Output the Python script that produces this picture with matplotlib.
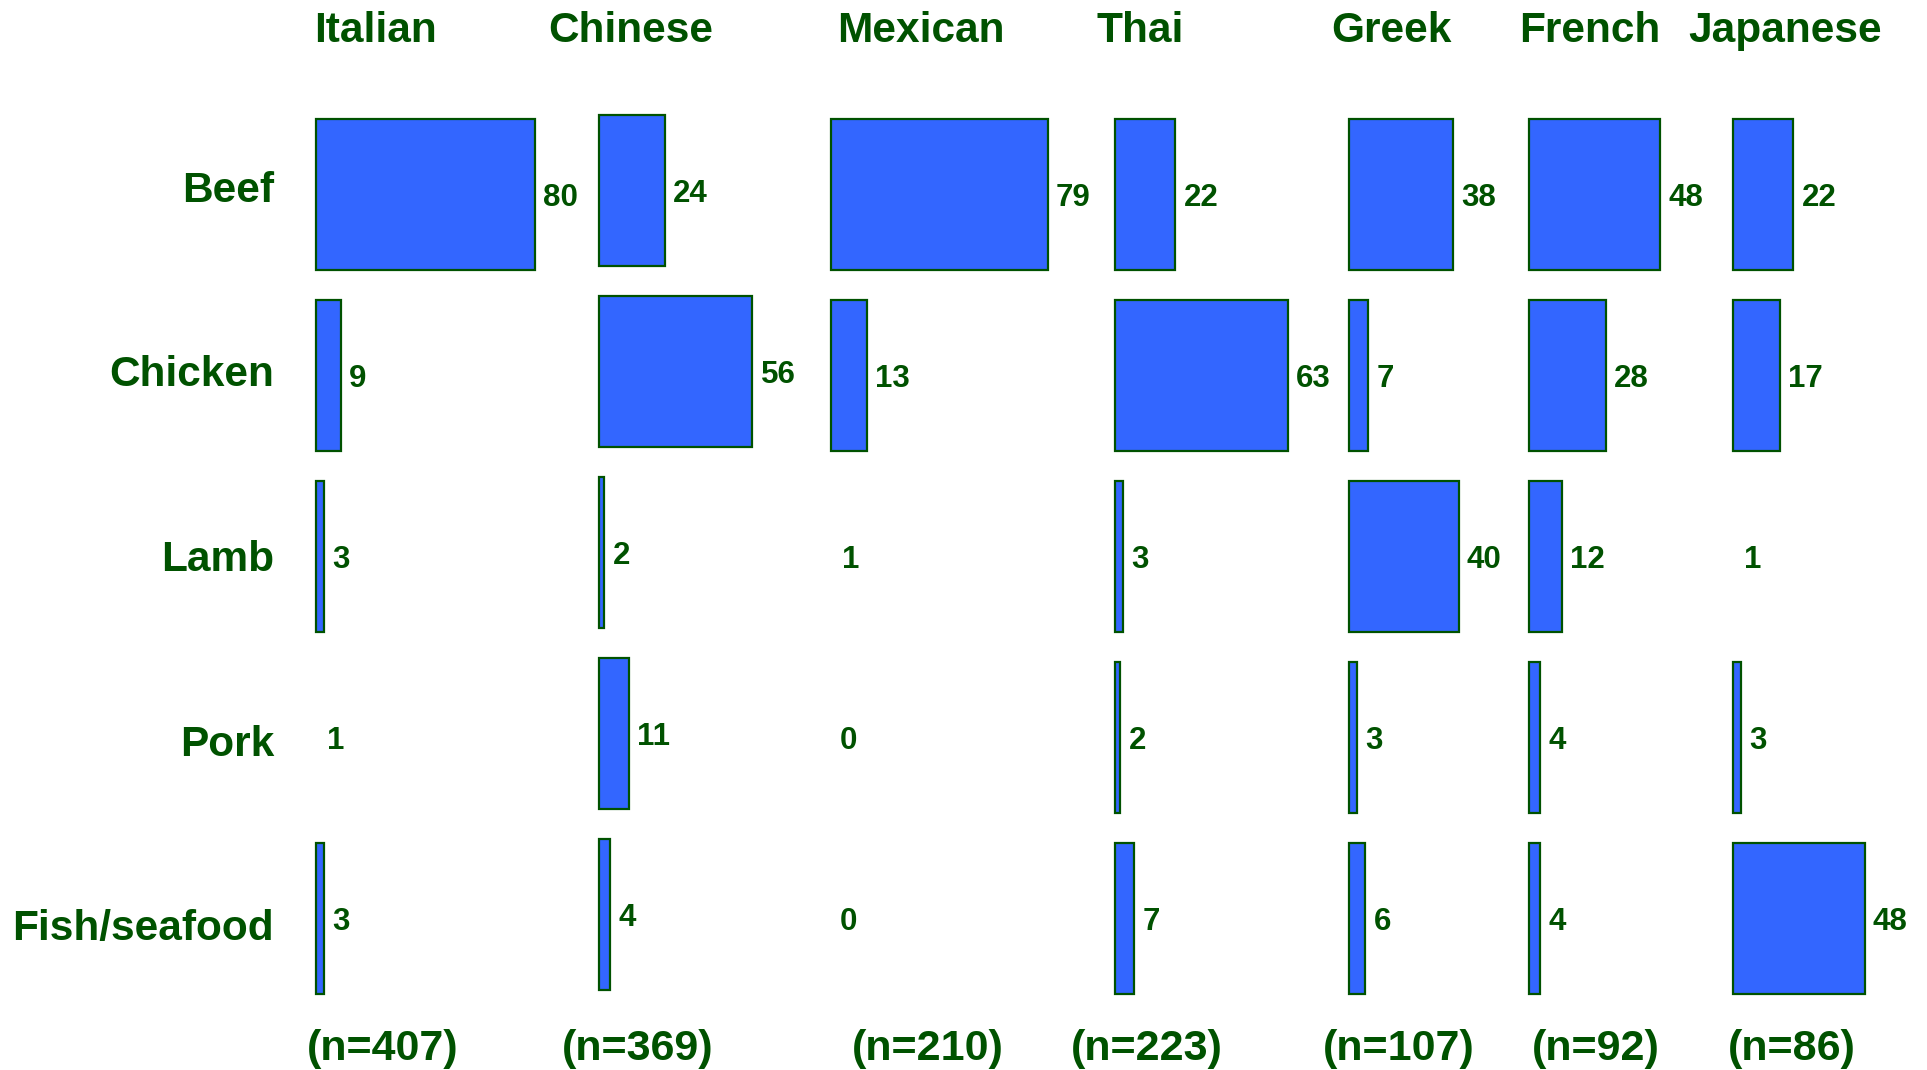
import matplotlib
matplotlib.use("Agg")
import matplotlib.pyplot as plt
from matplotlib.patches import Rectangle

cuisines = ["Italian", "Chinese", "Mexican", "Thai", "Greek", "French", "Japanese"]
n_values = [407, 369, 210, 223, 107, 92, 86]
meats = ["Beef", "Chicken", "Lamb", "Pork", "Fish/seafood"]
# percentages per cuisine (rows = meats)
italian = [80, 9, 3, 1, 3]
chinese = [24, 56, 2, 11, 4]
mexican = [79, 13, 1, 0, 0]
thai = [22, 63, 3, 2, 7]
greek = [38, 7, 40, 3, 6]
french = [48, 28, 12, 4, 4]
japanese = [22, 17, 1, 3, 48]
values = [italian, chinese, mexican, thai, greek, french, japanese]

# layout (x in percentage units, y in row units)
col_left = [115.3, 218.6, 303.3, 406.9, 492.3, 558.0, 632.5]
col_dy = [0, -0.02, 0, 0, 0, 0, 0]
col_label_x = [137.2, 230.2, 336.1, 416.0, 508.0, 580.3, 651.4]
n_label_x = [139.8, 232.8, 338.7, 418.6, 510.6, 582.5, 654.0]

GREEN = "#005200"
BLUE = "#3366ff"
plt.rcParams["font.family"] = ["Liberation Sans", "DejaVu Sans"]

fig = plt.figure(figsize=(19.27, 10.70), dpi=100)
ax = fig.add_axes([0, 0, 1, 1])
ax.set_xlim(0, 1927 / 2.74)
ax.set_ylim((1070 - 194.5) / 181, -194.5 / 181)
ax.axis("off")

bar_h = 0.834
for c, (left, vals) in enumerate(zip(col_left, values)):
    dy = col_dy[c]
    for r, v in enumerate(vals):
        if v > 1:
            ax.add_patch(Rectangle((left, r + dy - bar_h / 2), v, bar_h,
                                   facecolor=BLUE, edgecolor=GREEN, lw=1.6))
        ax.text(left + v + 3, r + dy + 0.064, str(v), ha="left", va="baseline",
                fontsize=22.5, fontweight="bold", color=GREEN)
    ax.text(col_label_x[c], -0.844, cuisines[c], ha="center", va="baseline",
            fontsize=30.5, fontweight="bold", color=GREEN)
    ax.text(n_label_x[c], 4.78, f"(n={n_values[c]})", ha="center", va="baseline",
            fontsize=31, fontweight="bold", color=GREEN)

for r, m in enumerate(meats):
    ax.text(100, 0.04 + 1.02 * r, m, ha="right", va="baseline", fontsize=30.5,
            fontweight="bold", color=GREEN)

fig.savefig("out.png", dpi=100)
